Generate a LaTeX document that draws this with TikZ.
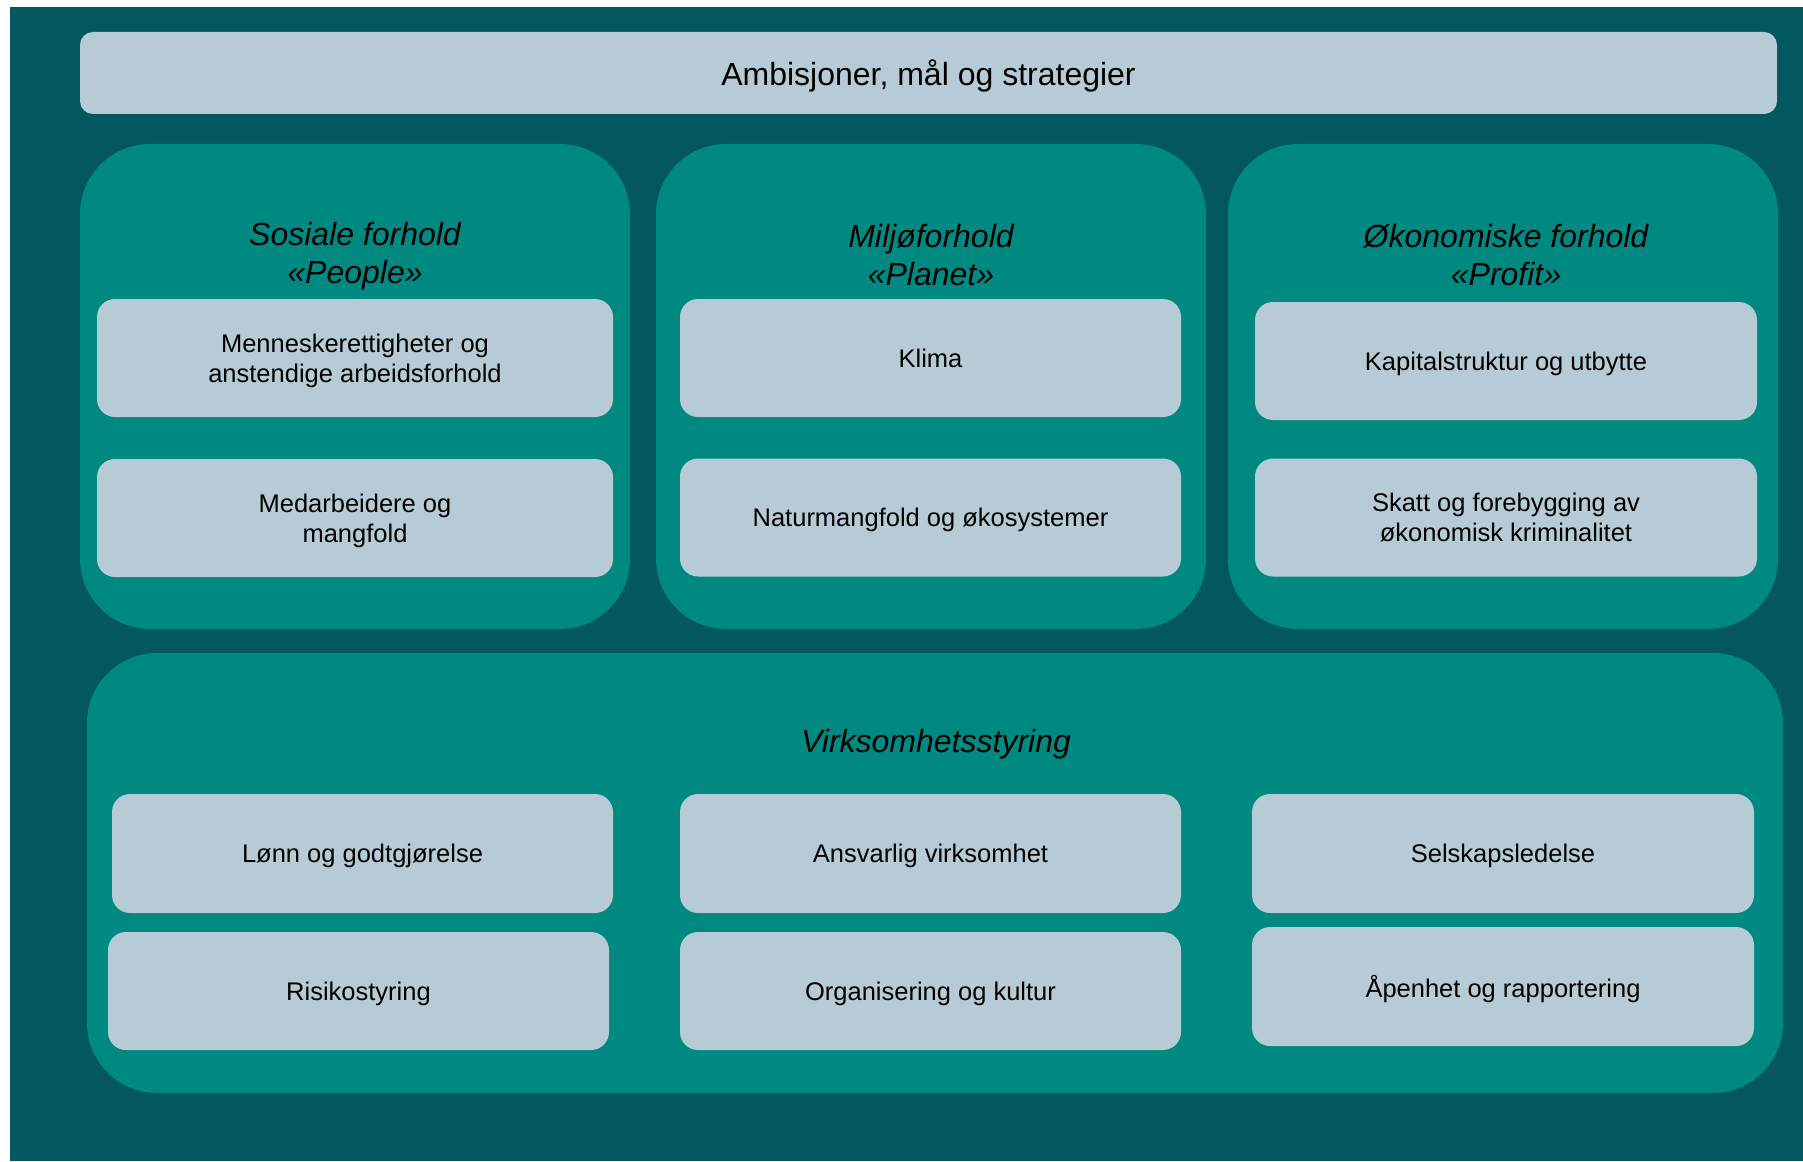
\documentclass[tikz,border=0pt]{standalone}
\usepackage{fontspec}
\setmainfont{Liberation Sans}
\usepackage{tikz}
\usetikzlibrary{positioning}
\definecolor{bgteal}{RGB}{3,87,95}
\definecolor{panelteal}{RGB}{0,137,128}
\definecolor{boxgrey}{RGB}{183,203,214}
\tikzstyle{panel}=[rectangle, rounded corners=70pt, fill=panelteal, inner sep=0pt, outer sep=0pt]
\tikzstyle{topic}=[rectangle, rounded corners=18pt, fill=boxgrey, minimum width=501pt, minimum height=118pt, inner sep=0pt, text depth=0pt, align=center, font=\fontsize{25.5}{30}\selectfont]
\tikzstyle{heading}=[align=center, text depth=0pt, inner sep=0pt, font=\fontsize{32}{38}\selectfont\itshape]

\begin{document}
\begin{tikzpicture}[x=1pt,y=-1pt]
	\useasboundingbox (0,0) rectangle (1803,1161);
	\fill[bgteal] (10,7) rectangle (1803,1161);

	% top banner
	\node[rectangle, rounded corners=13pt, fill=boxgrey, minimum width=1697pt, minimum height=82pt, text depth=0pt, font=\fontsize{32}{38}\selectfont] (goals) at (928.5,73) {Ambisjoner, mål og strategier};

	% three pillars
	\node[panel, minimum width=550pt, minimum height=485pt] (people) at (355,386.5) {};
	\node[panel, minimum width=550pt, minimum height=485pt] (planet) at (931,386.5) {};
	\node[panel, minimum width=550pt, minimum height=485pt] (profit) at (1503,386.5) {};
	\node[panel, minimum width=1696pt, minimum height=440pt] (gov) at (935,873) {};

	\node[heading] (peopleT) at (355,253.4) {Sosiale forhold\\«People»};
	\node[heading] (planetT) at (931,255.4) {Miljøforhold\\«Planet»};
	\node[heading] (profitT) at (1506,255.4) {Økonomiske forhold\\«Profit»};
	\node[heading] (govT) at (936,741) {Virksomhetsstyring};

	\node[topic, minimum width=516pt] (rights) at (355,358) {Menneskerettigheter og\\anstendige arbeidsforhold};
	\node[topic, minimum width=516pt] (staff) at (355,518) {Medarbeidere og\\mangfold};
	\node[topic] (climate) at (930.5,358) {Klima};
	\node[topic] (nature) at (930.5,517.5) {Naturmangfold og økosystemer};
	\node[topic, minimum width=502pt] (capital) at (1506,361) {Kapitalstruktur og utbytte};
	\node[topic, minimum width=502pt] (tax) at (1506,517.5) {Skatt og forebygging av\\økonomisk kriminalitet};

	\node[topic, minimum height=119pt] (pay) at (362.5,853.5) {Lønn og godtgjørelse};
	\node[topic] (risk) at (358.5,991) {Risikostyring};
	\node[topic, minimum height=119pt] (resp) at (930.5,853.5) {Ansvarlig virksomhet};
	\node[topic] (culture) at (930.5,991) {Organisering og kultur};
	\node[topic, minimum width=502pt, minimum height=119pt] (board) at (1503,853.5) {Selskapsledelse};
	\node[topic, minimum width=502pt, minimum height=119pt] (report) at (1503,986.5) {Åpenhet og rapportering};
\end{tikzpicture}
\end{document}
